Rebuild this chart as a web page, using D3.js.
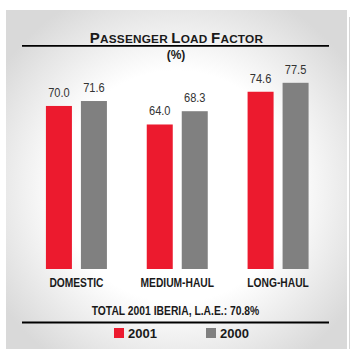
<!DOCTYPE html>
<html>
<head>
<meta charset="utf-8">
<script src="https://cdn.jsdelivr.net/npm/d3@7"></script>
<style>
  html, body { margin: 0; padding: 0; background: #fff; }
  svg { display: block; }
</style>
</head>
<body>
<script>
// Passenger load factor by route type, Iberia 2001 vs 2000 (%)
const categories = ["DOMESTIC", "MEDIUM-HAUL", "LONG-HAUL"];
const seriesNames = ["2001", "2000"];
const values2001 = [70.0, 64.0, 74.6];
const values2000 = [71.6, 68.3, 77.5];
const valueLabels2001 = ["70.0", "64.0", "74.6"];
const valueLabels2000 = ["71.6", "68.3", "77.5"];
const seriesColors = ["#ec1a2e", "#808080"];
const totalNote = "TOTAL 2001 IBERIA, L.A.E.: 70.8%";

const W = 350, H = 349;
const sans = "'Liberation Sans', Arial, Helvetica, sans-serif";
const ink = "#1a1a1a";
const narrowK = 0.82; // horizontal squeeze giving a condensed face

const svg = d3.select("body").append("svg").attr("width", W).attr("height", H);

// panel background: soft radial shading, white in the middle
const defs = svg.append("defs");
const grad = defs.append("radialGradient").attr("id", "panelBg")
  .attr("cx", "50%").attr("cy", "52%").attr("r", "62%");
grad.append("stop").attr("offset", "0%").attr("stop-color", "#ffffff");
grad.append("stop").attr("offset", "55%").attr("stop-color", "#ffffff");
grad.append("stop").attr("offset", "100%").attr("stop-color", "#d9d9d9");

svg.append("rect").attr("x", 6).attr("y", 10).attr("width", 341).attr("height", 339)
  .attr("fill", "url(#panelBg)");
svg.append("line").attr("x1", 349.5).attr("x2", 349.5).attr("y1", 17).attr("y2", H)
  .attr("stroke", "#d6d6d6").attr("stroke-width", 1);

// title in small caps
const title = svg.append("text").attr("x", 176.5).attr("y", 43)
  .attr("text-anchor", "middle").attr("font-family", sans).attr("font-weight", "bold")
  .attr("fill", ink);
[["P", "ASSENGER "], ["L", "OAD "], ["F", "ACTOR"]].forEach(([cap, rest]) => {
  title.append("tspan").attr("font-size", 15).attr("letter-spacing", 0.2).text(cap);
  title.append("tspan").attr("font-size", 11.8).attr("letter-spacing", 0.2).text(rest);
});
svg.append("line").attr("x1", 22).attr("x2", 329).attr("y1", 45.8).attr("y2", 45.8)
  .attr("stroke", "#000").attr("stroke-width", 1.8);
svg.append("text").attr("x", 176).attr("y", 59).attr("text-anchor", "middle")
  .attr("font-family", sans).attr("font-weight", "bold").attr("font-size", 12)
  .attr("fill", ink).text("(%)");

// scales
const x0 = d3.scaleBand().domain(categories).range([26, 328.5]).padding(0);
const x1 = d3.scaleBand().domain(seriesNames).range([-30.5, 30.5])
  .paddingInner(9 / 35).paddingOuter(0);
const y = d3.scaleLinear().domain([17.2, 77.5]).range([269, 82.8]);

const rows = categories.map((c, i) => ({
  category: c,
  bars: [
    { series: seriesNames[0], value: values2001[i], label: valueLabels2001[i] },
    { series: seriesNames[1], value: values2000[i], label: valueLabels2000[i] }
  ]
}));

const groups = svg.append("g").selectAll("g").data(rows).join("g")
  .attr("transform", d => `translate(${x0(d.category) + x0.bandwidth() / 2},0)`);

groups.selectAll("rect").data(d => d.bars).join("rect")
  .attr("x", d => x1(d.series))
  .attr("width", x1.bandwidth())
  .attr("y", d => y(d.value))
  .attr("height", d => y.range()[0] - y(d.value))
  .attr("fill", (d, i) => seriesColors[i]);

groups.selectAll("text.val").data(d => d.bars).join("text")
  .attr("class", "val")
  .attr("transform", d =>
    `translate(${x1(d.series) + x1.bandwidth() / 2},${y(d.value) - 9}) scale(${narrowK},1)`)
  .attr("text-anchor", "middle")
  .attr("font-family", sans).attr("font-size", 13.5)
  .attr("fill", "#333")
  .text(d => d.label);

// category axis labels
const xAxis = d3.axisBottom(x0).tickSize(0).tickPadding(0);
const axisG = svg.append("g").attr("transform", "translate(0,269)").call(xAxis);
axisG.select(".domain").remove();
axisG.selectAll("text")
  .attr("dy", null).attr("y", 0)
  .attr("transform", `translate(0,18) scale(${narrowK},1)`)
  .attr("font-family", sans).attr("font-weight", "bold").attr("font-size", 12.5)
  .attr("fill", ink);

// total note
svg.append("text")
  .attr("transform", `translate(175.5,315) scale(${narrowK},1)`)
  .attr("text-anchor", "middle")
  .attr("font-family", sans).attr("font-weight", "bold").attr("font-size", 12.6)
  .attr("fill", ink).text(totalNote);
svg.append("line").attr("x1", 22).attr("x2", 329).attr("y1", 322.5).attr("y2", 322.5)
  .attr("stroke", "#000").attr("stroke-width", 1.8);

// legend
const legendX = [114, 206];
const legend = svg.append("g").selectAll("g").data(seriesNames).join("g")
  .attr("transform", (d, i) => `translate(${legendX[i]},328)`);
legend.append("rect").attr("width", 10).attr("height", 10)
  .attr("fill", (d, i) => seriesColors[i]);
legend.append("text").attr("x", 14).attr("y", 10)
  .attr("font-family", sans).attr("font-weight", "bold").attr("font-size", 13)
  .attr("fill", ink).text(d => d);
</script>
</body>
</html>
